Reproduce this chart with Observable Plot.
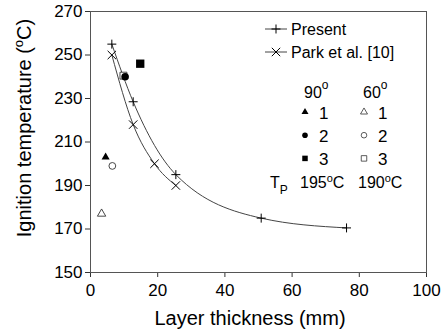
<!DOCTYPE html>
<html><head><meta charset="utf-8">
<script src="https://cdn.jsdelivr.net/npm/d3@7"></script>
<script src="https://cdn.jsdelivr.net/npm/@observablehq/plot@0.6"></script>
<style>
body{margin:0;background:#fff;}
svg{font-family:"Liberation Sans",Arial,sans-serif;}
</style>
</head><body><div id="chart"></div>
<script>
// Present study (x = layer thickness mm, t = ignition temperature °C)
const presentX = [6.35, 12.7, 25.4, 50.8, 76.2];
const presentT = [255, 228.5, 195, 175, 170.5];
// Park et al. [10]
const parkX = [6.35, 12.7, 19.05, 25.4];
const parkT = [250, 218, 200, 190];
// Sample ids
const samples = ["1", "2", "3"];
// 90° samples
const a90X = [4.5, 10.3, 14.8];
const a90T = [203, 240, 246];
// 60° samples
const a60X = [3.3, 6.5, 9.8];
const a60T = [177, 199, 240.5];
// Tick values
const xTicks = [0, 20, 40, 60, 80, 100];
const yTicks = [150, 170, 190, 210, 230, 250, 270];
// Legend texts
const seriesNames = ["Present", "Park et al. [10]"];
const angleNames = ["90", "60"];
const tpValues = ["195", "190"];

const present = presentX.map((x, i) => ({x, t: presentT[i]}));
const park = parkX.map((x, i) => ({x, t: parkT[i]}));
const s90 = a90X.map((x, i) => ({x, t: a90T[i], s: samples[i]}));
const s60 = a60X.map((x, i) => ({x, t: a60T[i], s: samples[i]}));

const symRange = ["triangle", "circle", "square"];
const rFilled = {"1": 3, "2": 3.8, "3": 4.7};
const rOpen = {"1": 3.1, "2": 3.4, "3": 3.9};

const marks = [
  Plot.frame({stroke: "#555", strokeWidth: 1}),
  Plot.line(present, {x: "x", y: "t", curve: "monotone-x", stroke: "#444", strokeWidth: 1}),
  Plot.line(park, {x: "x", y: "t", curve: "monotone-x", stroke: "#444", strokeWidth: 1}),
  Plot.dot(present, {x: "x", y: "t", symbol: () => "plus", stroke: "#000", r: 3, strokeWidth: 1}),
  Plot.dot(park, {x: "x", y: "t", symbol: () => "times", stroke: "#000", r: 3.9, strokeWidth: 1}),
];
for (const s of samples) {
  marks.push(Plot.dot(s60.filter(d => d.s === s), {x: "x", y: "t", symbol: "s", fill: "#fff", stroke: "#333", strokeWidth: 0.9, r: rOpen[s]}));
}
for (const s of samples) {
  marks.push(Plot.dot(s90.filter(d => d.s === s), {x: "x", y: "t", symbol: "s", fill: "#000", stroke: "none", r: rFilled[s]}));
}

const chart = Plot.plot({
  width: 444, height: 336,
  marginLeft: 90, marginRight: 18, marginTop: 11, marginBottom: 64,
  style: {fontFamily: "'Liberation Sans', Arial, sans-serif", background: "#fff", color: "#000"},
  x: {domain: [0, 100], ticks: xTicks, label: null},
  y: {domain: [150, 270], ticks: yTicks, label: null},
  symbol: {domain: samples, range: symRange},
  marks: [
    Plot.axisX({ticks: xTicks, tickSize: 5, fontSize: 17, tickPadding: 6, label: null, stroke: "#333"}),
    Plot.axisY({ticks: yTicks, tickSize: 5, fontSize: 17, tickPadding: 3, label: null, stroke: "#333"}),
    ...marks
  ]
});
document.getElementById("chart").appendChild(chart);

// Titles and legend
const svg = d3.select(chart);
const g = svg.append("g").attr("fill", "#000");
// x title
g.append("text").attr("x", 250).attr("y", 325).attr("text-anchor", "middle")
  .attr("font-size", 20).text("Layer thickness (mm)");
// y title with superscript o
const yt = g.append("text").attr("transform", "translate(31,128) rotate(-90)")
  .attr("text-anchor", "middle").attr("font-size", 20);
yt.append("tspan").text("Ignition temperature (");
yt.append("tspan").attr("font-size", 13).attr("dy", -8).text("o");
yt.append("tspan").attr("dy", 8).text("C)");

// Series legend
const leg = svg.append("g").attr("font-size", 16).attr("text-anchor", "start").attr("fill", "#000");
const seriesSym = [d3.symbolPlus, d3.symbolTimes];
const seriesSize = [Math.PI * 9, Math.PI * 3.9 * 3.9];
seriesNames.forEach((name, i) => {
  const cy = 29 + i * 23;
  leg.append("line").attr("x1", 265).attr("x2", 287).attr("y1", cy).attr("y2", cy)
    .attr("stroke", "#444").attr("stroke-width", 1);
  leg.append("path").attr("d", d3.symbol(seriesSym[i], seriesSize[i])())
    .attr("transform", `translate(276,${cy})`).attr("fill", "none").attr("stroke", "#000");
  leg.append("text").attr("x", 291).attr("y", cy + 6).text(name);
});

// Angle legend
const colX = [305, 364];
angleNames.forEach((a, j) => {
  const t = leg.append("text").attr("x", colX[j] - 1).attr("y", 98);
  t.append("tspan").text(a);
  t.append("tspan").attr("font-size", 12).attr("dy", -9).text("o");
  samples.forEach((s, i) => {
    const cy = 112 + i * 23.2;
    const symObj = [d3.symbolTriangle, d3.symbolCircle, d3.symbolSquare][i];
    const rr = [2.6, 2.8, 3.1][i];
    leg.append("path").attr("d", d3.symbol(symObj, Math.PI * rr * rr)())
      .attr("transform", `translate(${colX[j]},${cy})`)
      .attr("fill", j === 0 ? "#000" : "#fff").attr("stroke", j === 0 ? "none" : "#333").attr("stroke-width", 0.8);
    leg.append("text").attr("x", colX[j] + 14).attr("y", cy + 7).attr("font-size", 17).text(s);
  });
});
// T_P row
const tp = leg.append("text").attr("x", 270).attr("y", 188);
tp.append("tspan").text("T");
tp.append("tspan").attr("font-size", 12).attr("dy", 6).text("P");
tpValues.forEach((v, j) => {
  const t = leg.append("text").attr("x", [300, 358][j]).attr("y", 188);
  t.append("tspan").text(v);
  t.append("tspan").attr("font-size", 11).attr("dy", -6).text("o");
  t.append("tspan").attr("dy", 6).text("C");
});
</script>
</body></html>
